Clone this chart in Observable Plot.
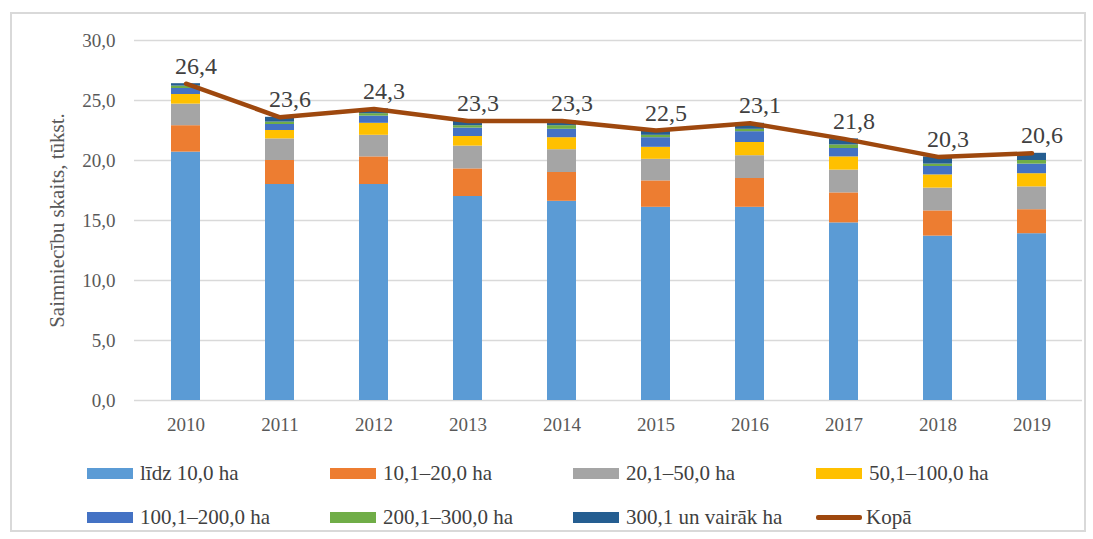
<!DOCTYPE html>
<html>
<head>
<meta charset="utf-8">
<script src="https://cdn.jsdelivr.net/npm/d3@7"></script>
<script src="https://cdn.jsdelivr.net/npm/@observablehq/plot@0.6"></script>
<style>
  html, body { margin: 0; padding: 0; background: #fff; }
  body { width: 1093px; height: 539px; position: relative; overflow: hidden; font-family: "Liberation Serif", "Times New Roman", serif; }
  #frame { position: absolute; left: 10px; top: 12px; width: 1076px; height: 520px; border: 2px solid #d9d9d9; box-sizing: border-box; }
  #chart { position: absolute; left: 0; top: 0; }
  #legend { position: absolute; left: 87px; top: 451px; display: grid; grid-template-columns: repeat(4, 243px); grid-auto-rows: 44px; }
  .item { display: flex; align-items: center; font-size: 21px; color: #404040; white-space: nowrap; }
  .sw { width: 46px; height: 11px; margin-right: 7px; flex: none; }
  .ln { width: 46px; height: 5px; margin-right: 4px; flex: none; border-radius: 2px; }
</style>
</head>
<body>
<div id="frame"></div>
<div id="chart"></div>
<div id="legend"></div>
<script>
const years = ["2010","2011","2012","2013","2014","2015","2016","2017","2018","2019"];
const seriesNames = ["līdz 10,0 ha","10,1–20,0 ha","20,1–50,0 ha","50,1–100,0 ha","100,1–200,0 ha","200,1–300,0 ha","300,1 un vairāk ha"];
const seriesColors = ["#5B9BD5","#ED7D31","#A5A5A5","#FFC000","#4472C4","#70AD47","#255E91"];
const lidz10   = [20.7, 18.0, 18.0, 17.0, 16.6, 16.1, 16.1, 14.8, 13.7, 13.9];
const s10_20   = [2.2, 2.0, 2.3, 2.3, 2.4, 2.2, 2.4, 2.5, 2.1, 2.0];
const s20_50   = [1.8, 1.8, 1.8, 1.9, 1.9, 1.8, 1.9, 1.9, 1.9, 1.9];
const s50_100  = [0.8, 0.7, 1.0, 0.8, 1.0, 1.0, 1.1, 1.1, 1.1, 1.1];
const s100_200 = [0.5, 0.5, 0.6, 0.7, 0.7, 0.8, 0.9, 0.7, 0.7, 0.8];
const s200_300 = [0.2, 0.2, 0.2, 0.2, 0.3, 0.2, 0.2, 0.3, 0.2, 0.3];
const s300     = [0.2, 0.4, 0.4, 0.4, 0.4, 0.4, 0.5, 0.5, 0.6, 0.6];
const kopa     = [26.4, 23.6, 24.3, 23.3, 23.3, 22.5, 23.1, 21.8, 20.3, 20.6];
const totalName = "Kopā";
const totalColor = "#9E480E";
const yTicks = [0, 5, 10, 15, 20, 25, 30];

const seriesValues = [lidz10, s10_20, s20_50, s50_100, s100_200, s200_300, s300];
const rows = [];
seriesNames.forEach((name, si) => {
  years.forEach((yr, i) => rows.push({year: yr, series: name, value: seriesValues[si][i]}));
});
const totals = years.map((yr, i) => ({year: yr, value: kopa[i]}));
const fmt = d => d.toFixed(1).replace(".", ",");

const chart = Plot.plot({
  width: 1093,
  height: 445,
  marginTop: 40,
  marginBottom: 45,
  marginLeft: 134,
  marginRight: 11,
  style: {fontFamily: "'Liberation Serif', 'Times New Roman', serif", background: "transparent"},
  x: {domain: years, paddingInner: 0.694, paddingOuter: 0.35, axis: null},
  y: {domain: [0, 30], ticks: yTicks, axis: null},
  color: {domain: seriesNames, range: seriesColors},
  marks: [
    Plot.gridY(yTicks, {stroke: "#d9d9d9", strokeOpacity: 1, strokeWidth: 1.6}),
    Plot.axisY({ticks: yTicks, tickSize: 0, tickPadding: 19, tickFormat: fmt, fontSize: 19, fill: "#595959",
      label: "Saimniecību skaits, tūkst.", labelAnchor: "center", labelArrow: "none", labelOffset: 85}),
    Plot.axisX({tickSize: 0, tickPadding: 17, fontSize: 19, fill: "#595959", label: null}),
    Plot.barY(rows, Plot.stackY({order: null}, {x: "year", y: "value", fill: "series"})),
    Plot.line(totals, {x: "year", y: "value", stroke: totalColor, strokeWidth: 4.5, strokeLinejoin: "round", strokeLinecap: "round"}),
    Plot.text(totals, {x: "year", y: "value", text: d => fmt(d.value), dy: -10, dx: 10, lineAnchor: "bottom", fontSize: 24, fill: "#404040"})
  ]
});
document.getElementById("chart").appendChild(chart);

chart.querySelectorAll("text").forEach(t => {
  if (t.textContent === "Saimniecību skaits, tūkst.") { t.setAttribute("font-size", "21"); t.setAttribute("fill", "#595959"); t.style.fontSize = "21px"; }
});

const legend = document.getElementById("legend");
seriesNames.forEach((name, i) => {
  const it = document.createElement("div");
  it.className = "item";
  it.innerHTML = `<span class="sw" style="background:${seriesColors[i]}"></span><span>${name}</span>`;
  legend.appendChild(it);
});
const tot = document.createElement("div");
tot.className = "item";
tot.innerHTML = `<span class="ln" style="background:${totalColor}"></span><span>${totalName}</span>`;
legend.appendChild(tot);
</script>
</body>
</html>
